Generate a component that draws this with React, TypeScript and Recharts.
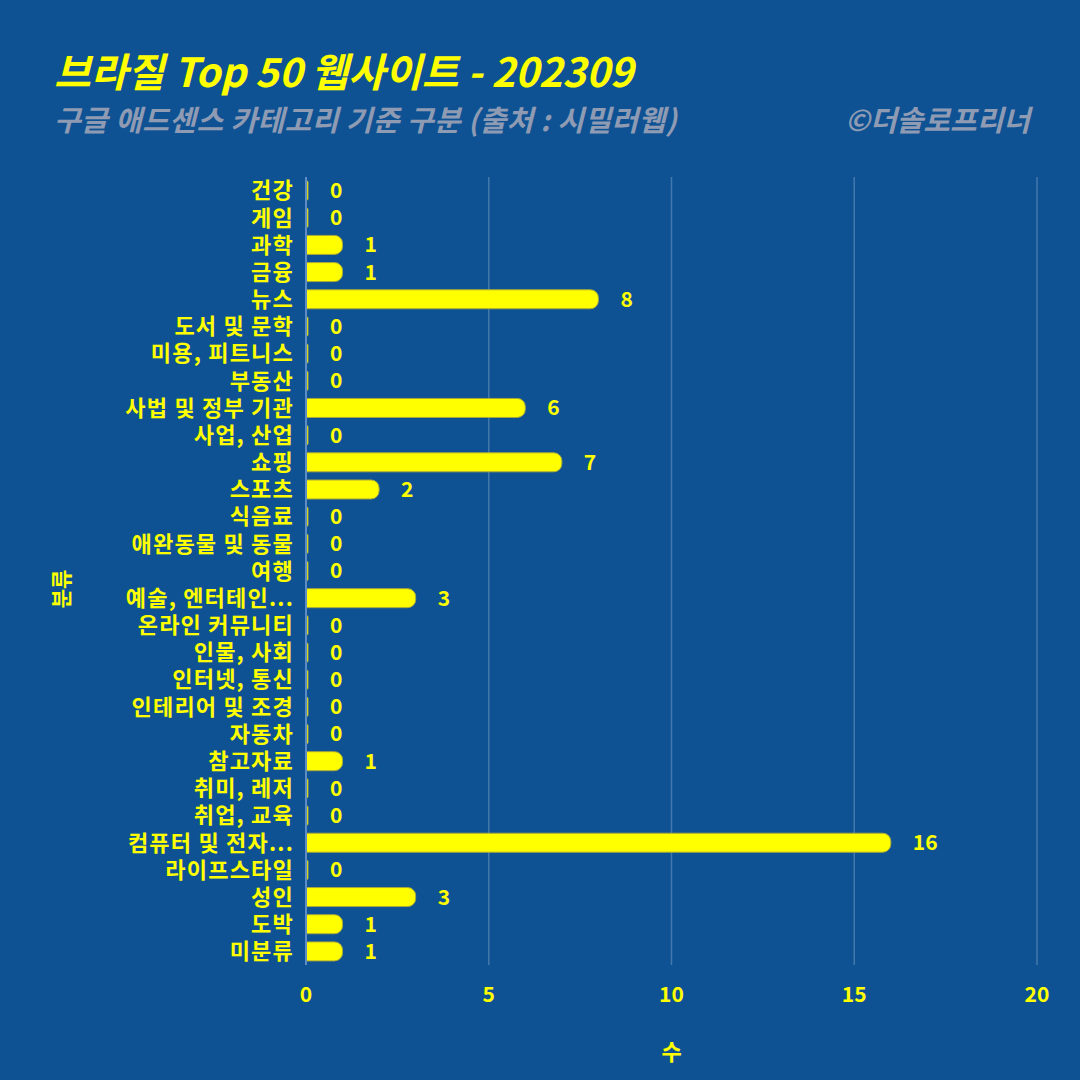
import { BarChart, Bar, XAxis, YAxis, CartesianGrid, LabelList } from "recharts";

const categories = [
  "건강", "게임", "과학", "금융", "뉴스", "도서 및 문학", "미용, 피트니스", "부동산",
  "사법 및 정부 기관", "사업, 산업", "쇼핑", "스포츠", "식음료", "애완동물 및 동물", "여행",
  "예술, 엔터테인...", "온라인 커뮤니티", "인물, 사회", "인터넷, 통신", "인테리어 및 조경",
  "자동차", "참고자료", "취미, 레저", "취업, 교육", "컴퓨터 및 전자...", "라이프스타일",
  "성인", "도박", "미분류",
];
const counts = [0, 0, 1, 1, 8, 0, 0, 0, 6, 0, 7, 2, 0, 0, 0, 3, 0, 0, 0, 0, 0, 1, 0, 0, 16, 0, 3, 1, 1];
const xTicks = [0, 5, 10, 15, 20];

const data = categories.map((name, i) => ({ name, count: counts[i] }));

const BG = "#0E5294";
const YELLOW = "#FFFF00";
const GREY = "#8E9BB3";
const FONT = "'Noto Sans CJK KR', 'Noto Sans', sans-serif";

// y-axis title, sits a little below the plot's middle like the original
const yTitle = ({ viewBox }: any) => {
  const cx = 60;
  const cy = viewBox.y + viewBox.height / 2 + 18;
  return (
    <text x={cx} y={cy} transform={`rotate(-90 ${cx} ${cy})`} textAnchor="middle" dominantBaseline="central"
      fill={YELLOW} fontSize={21} fontWeight={700}>
      분류
    </text>
  );
};

export default function App() {
  return (
    <div style={{ position: "absolute", left: 0, top: 0, width: 1080, height: 1080, background: BG, fontFamily: FONT }}>
      <div style={{ position: "absolute", left: 54, top: 50, fontSize: 40, fontWeight: 700, fontStyle: "italic", color: YELLOW, whiteSpace: "nowrap", lineHeight: 1 }}>
        브라질 Top 50 웹사이트 - 202309
      </div>
      <div style={{ position: "absolute", left: 54, top: 104, fontSize: 29, fontWeight: 700, fontStyle: "italic", color: GREY, whiteSpace: "nowrap", lineHeight: 1, letterSpacing: 0.4 }}>
        구글 애드센스 카테고리 기준 구분 (출처 : 시밀러웹)
      </div>
      <div style={{ position: "absolute", right: 50, top: 104, fontSize: 29, fontWeight: 700, fontStyle: "italic", color: GREY, whiteSpace: "nowrap", lineHeight: 1 }}>
        ©더솔로프리너
      </div>
      <BarChart
        width={1080}
        height={1080}
        data={data}
        layout="vertical"
        margin={{ top: 177, right: 43, bottom: 0, left: 0 }}
        barCategoryGap="15%"
        style={{ position: "absolute", left: 0, top: 0, fontFamily: FONT }}
      >
        <CartesianGrid horizontal={false} stroke="rgba(255,255,255,0.22)" strokeWidth={1.5} />
        <XAxis
          type="number"
          domain={[0, 20]}
          ticks={xTicks}
          height={115}
          axisLine={false}
          tickLine={false}
          tickSize={0}
          tickMargin={22}
          tick={{ fill: YELLOW, fontSize: 21, fontWeight: 700 }}
          label={{ value: "수", position: "insideBottom", offset: 20, fill: YELLOW, fontSize: 22, fontWeight: 700 }}
        />
        <YAxis
          type="category"
          dataKey="name"
          width={306}
          interval={0}
          axisLine={{ stroke: "#5E8CC4", strokeWidth: 2 }}
          tickLine={false}
          tickSize={0}
          tickMargin={12}
          tick={{ fill: YELLOW, fontSize: 22, fontWeight: 700, letterSpacing: 1.2 }}
          label={yTitle}
        />
        <Bar dataKey="count" fill={YELLOW} stroke="#A8A83A" strokeWidth={1} radius={[0, 8, 8, 0]} minPointSize={2} isAnimationActive={false}>
          <LabelList dataKey="count" position="right" offset={22} fill={YELLOW} fontSize={21} fontWeight={700} />
        </Bar>
      </BarChart>
    </div>
  );
}
